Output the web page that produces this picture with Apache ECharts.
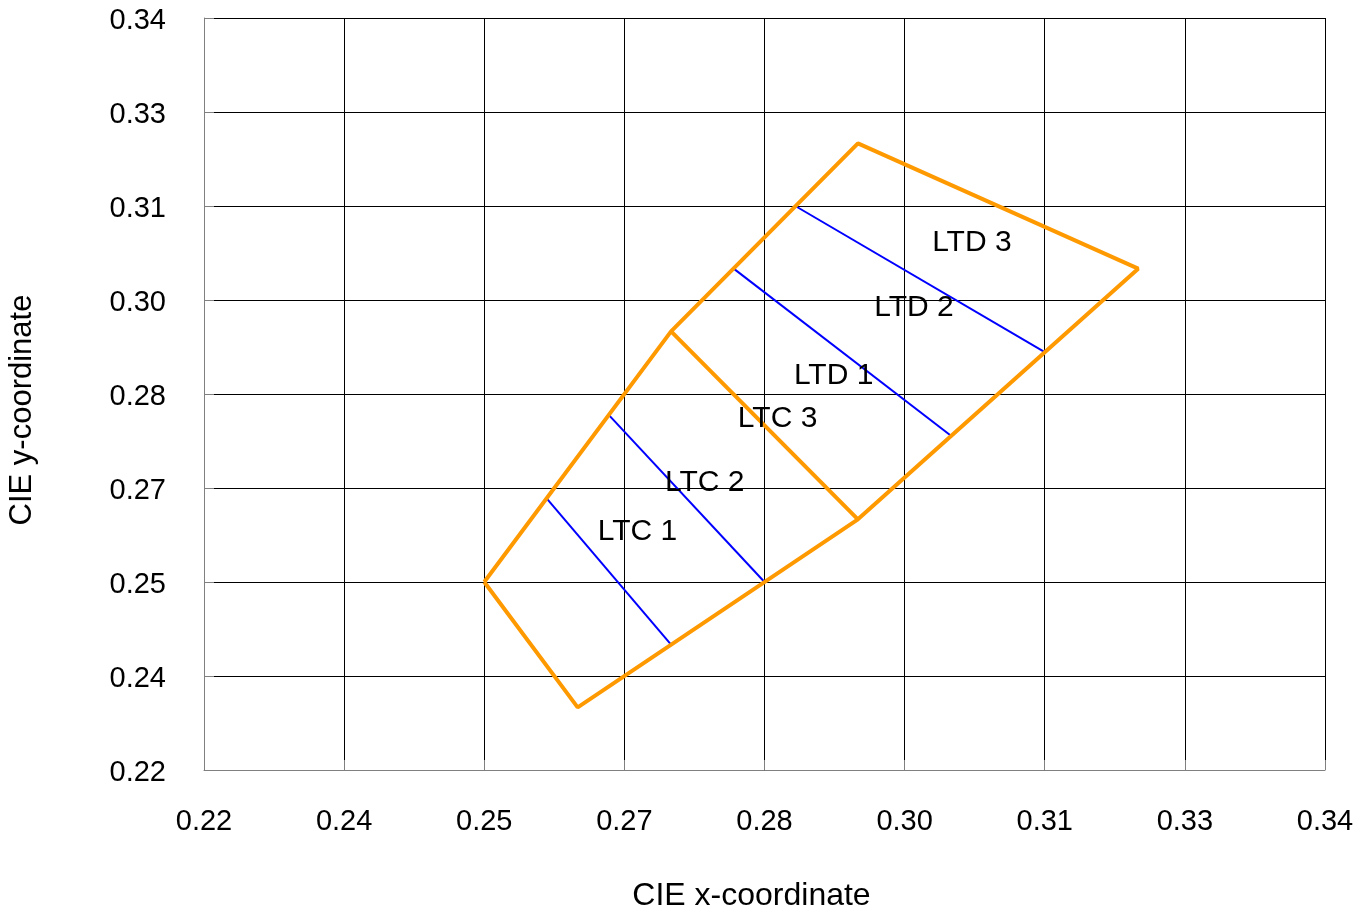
<!DOCTYPE html>
<html>
<head>
<meta charset="utf-8">
<script src="https://cdn.jsdelivr.net/npm/echarts@6/dist/echarts.min.js"></script>
<style>
html,body{margin:0;padding:0;background:#fff;}
#chart{width:1367px;height:913px;}
</style>
</head>
<body>
<div id="chart"></div>
<script>
// Axis ticks (0.22 .. 0.34 in steps of 0.015) and their printed labels
var xTickLabels = ['0.22','0.24','0.25','0.27','0.28','0.30','0.31','0.33','0.34'];
var yTickLabels = ['0.22','0.24','0.25','0.27','0.28','0.30','0.31','0.33','0.34'];

// Orange outline of the LTC/LTD region (closed polygon)
var outline = [[0.25,0.25],[0.27,0.29],[0.29,0.32],[0.32,0.30],[0.29,0.26],[0.26,0.23],[0.25,0.25]];
// Orange divider between LTC and LTD
var divider = [[0.27,0.29],[0.29,0.26]];
// Blue sub-division lines
var ltc12 = [[0.2567,0.2633],[0.27,0.24]];
var ltc23 = [[0.2633,0.2767],[0.28,0.25]];
var ltd12 = [[0.2767,0.30],[0.30,0.2733]];
var ltd23 = [[0.2833,0.31],[0.31,0.2867]];

// Region labels
var labelNames = ['LTC 1','LTC 2','LTC 3','LTD 1','LTD 2','LTD 3'];
var labelX = [0.2664,0.2736,0.2814,0.2874,0.2960,0.3022];
var labelY = [0.2580,0.2659,0.2760,0.2829,0.2938,0.3041];

function tickLabel(arr, rich){
  return function(v){
    var i = Math.round((v - 0.22) / 0.015);
    var s = arr[i] !== undefined ? arr[i] : '';
    return rich ? '{a|' + s + '}' : s;
  };
}

var FONT = 'Liberation Sans, Arial, sans-serif';
var chart = echarts.init(document.getElementById('chart'), null, {renderer:'canvas'});

function seg(data, color, width){
  return {type:'line', data:data, showSymbol:false, symbol:'none', silent:true,
    lineStyle:{color:color, width:width}, animation:false, z:3};
}

var labelData = labelNames.map(function(n,i){ return {name:n, value:[labelX[i], labelY[i]]}; });

chart.setOption({
  animation:false,
  backgroundColor:'#fff',
  grid:{left:204, right:42, top:18, bottom:143, containLabel:false, outerBoundsMode:'none'},
  xAxis:{
    type:'value', min:0.22, max:0.34, interval:0.015,
    name:'CIE x-coordinate', nameLocation:'middle', nameGap:110,
    nameTextStyle:{fontFamily:FONT, fontSize:32, color:'#000', padding:[0,26,0,0]},
    axisLine:{show:true, lineStyle:{color:'#808080', width:1}},
    axisTick:{show:true, inside:true, length:10, lineStyle:{color:'#808080'}},
    axisLabel:{formatter:tickLabel(xTickLabels, false), fontFamily:FONT, fontSize:29, color:'#000', margin:37},
    splitLine:{show:true, lineStyle:{color:'#000', width:1}}
  },
  yAxis:{
    type:'value', min:0.22, max:0.34, interval:0.015,
    name:'CIE y-coordinate', nameLocation:'middle', nameGap:166, nameRotate:90,
    nameTextStyle:{fontFamily:FONT, fontSize:31, color:'#000', padding:[0,32,0,0]},
    axisLine:{show:true, lineStyle:{color:'#808080', width:1}},
    axisTick:{show:true, inside:true, length:10, lineStyle:{color:'#808080'}},
    axisLabel:{formatter:tickLabel(yTickLabels, true), fontFamily:FONT, fontSize:29, color:'#000', margin:38,
      rich:{a:{fontFamily:FONT, fontSize:29, color:'#000', padding:[6,0,0,0]}}},
    splitLine:{show:true, lineStyle:{color:'#000', width:1}}
  },
  series:[
    seg(ltc12,'#0000FF',2),
    seg(ltc23,'#0000FF',2),
    seg(ltd12,'#0000FF',2),
    seg(ltd23,'#0000FF',2),
    seg(outline,'#FF9900',4),
    seg(divider,'#FF9900',4),
    {type:'scatter', data:labelData, symbolSize:0, silent:true, z:5,
      itemStyle:{color:'#000', opacity:1},
      label:{show:true, position:[0,0], align:'center', verticalAlign:'middle', formatter:'{b}',
        fontFamily:FONT, fontSize:30, color:'#000', opacity:1}}
  ]
});
</script>
</body>
</html>
